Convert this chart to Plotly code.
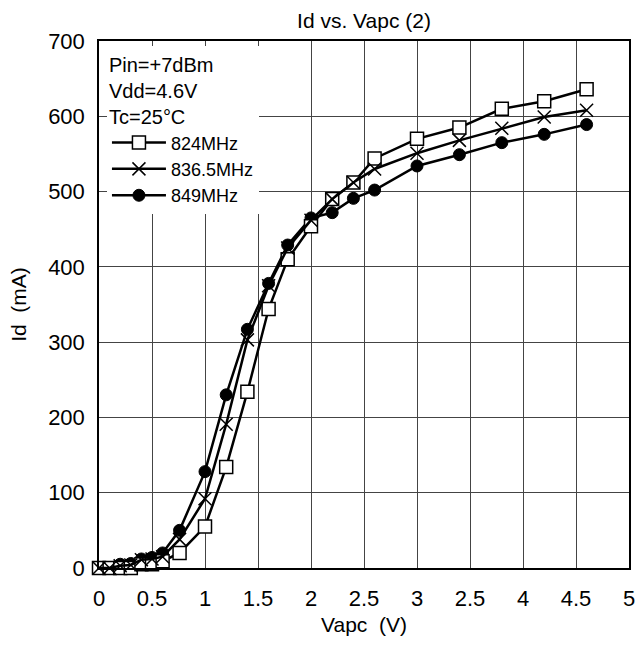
import plotly.graph_objects as go

vapc = [0, 0.1, 0.2, 0.3, 0.4, 0.5, 0.6, 0.76, 1.0, 1.2, 1.4, 1.6, 1.78, 2.0, 2.2, 2.4, 2.6, 3.0, 3.4, 3.8, 4.2, 4.6]
id_824 = [0, 0, 0, 0, 5, 5, 9, 20, 55, 134, 234, 344, 410, 454, 490, 512, 544, 570, 585, 610, 620, 636]
id_836 = [0, 0, 3, 4, 11, 12, 15, 38, 92, 191, 303, 375, 425, 462, 490, 512, 530, 551, 568, 584, 599, 608]
id_849 = [0, 0, 5, 6, 12, 14, 20, 50, 128, 230, 317, 378, 429, 465, 472, 491, 502, 534, 549, 565, 576, 589]

x_tickvals = [0, 0.5, 1, 1.5, 2, 2.5, 3, 3.5, 4, 4.5, 5]
x_ticktext = ["0", "0.5", "1", "1.5", "2", "2.5", "3", "2.5", "4", "4.5", "5"]
y_tickvals = [0, 100, 200, 300, 400, 500, 600, 700]

FONT = "Liberation Sans, Arial, sans-serif"

fig = go.Figure()
fig.add_trace(go.Scatter(
    x=vapc, y=id_849, name="849MHz", mode="lines+markers", legendrank=3,
    line=dict(color="black", width=2.5),
    marker=dict(symbol="circle", size=12, color="black", line=dict(color="black", width=1)),
    cliponaxis=False))
fig.add_trace(go.Scatter(
    x=vapc, y=id_824, name="824MHz", mode="lines+markers", legendrank=1,
    line=dict(color="black", width=2.5),
    marker=dict(symbol="square", size=13, color="white", line=dict(color="black", width=1.5)),
    cliponaxis=False))
fig.add_trace(go.Scatter(
    x=vapc, y=id_836, name="836.5MHz", mode="lines+markers", legendrank=2,
    line=dict(color="black", width=2.5),
    marker=dict(symbol="x-thin", size=13, color="black", line=dict(color="black", width=1.5)),
    cliponaxis=False))

fig.update_layout(
    width=637, height=645,
    margin=dict(l=99, r=8, t=41, b=77, autoexpand=False),
    paper_bgcolor="white", plot_bgcolor="white",
    font=dict(family=FONT, size=21, color="black"),
    title=dict(text="Id vs. Vapc (2)", x=0.5714, xanchor="center", y=0.968, yanchor="middle",
               font=dict(size=21)),
    legend=dict(
        x=0.015, y=0.99, xanchor="left", yanchor="top",
        bgcolor="white", borderwidth=0,
        font=dict(size=18),
        title=dict(text="Pin=+7dBm<br>Vdd=4.6V<br>Tc=25°C", font=dict(size=20)),
        tracegroupgap=0, itemwidth=54,
    ),
    showlegend=True,
)
fig.update_xaxes(
    range=[0, 5], tickvals=x_tickvals, ticktext=x_ticktext,
    showgrid=True, gridcolor="#444", gridwidth=1,
    showline=True, linecolor="black", linewidth=1.5, mirror=True,
    ticks="", zeroline=False, automargin=False, ticklabelstandoff=10,
    title=dict(text="Vapc  (V)", standoff=7, font=dict(size=21)),
    tickfont=dict(size=22),
)
fig.update_yaxes(
    range=[0, 700], tickvals=y_tickvals,
    showgrid=True, gridcolor="#444", gridwidth=1,
    showline=True, linecolor="black", linewidth=1.5, mirror=True,
    ticks="", zeroline=False, automargin=False, ticklabelstandoff=8,
    title=dict(text="Id  (mA)", standoff=16, font=dict(size=21)),
    tickfont=dict(size=22),
)

fig.write_html(
    "out.html",
    config={"displayModeBar": False},
    post_script="document.body.style.margin='0';document.body.style.overflow='hidden';",
)
